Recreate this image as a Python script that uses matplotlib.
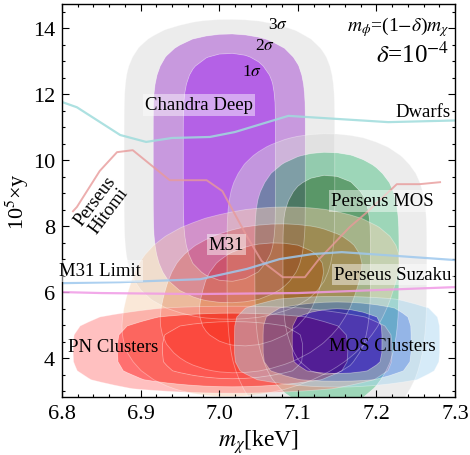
import numpy as np
import matplotlib.pyplot as plt
from matplotlib.colors import to_rgb
from matplotlib.ticker import MultipleLocator

plt.rcParams['font.family'] = ['Liberation Serif', 'DejaVu Serif']
plt.rcParams['mathtext.fontset'] = 'stix'

# sigma levels for 2 d.o.f. (1, 2, 3 sigma)
levels = [0, 2.30, 6.18, 11.83]

# contour regions: centre, x-scale, y-scale (up/down), exponents, tilt
names = ['Chandra Deep', 'Perseus MOS', 'M31', 'PN Clusters', 'MOS Clusters']
x0 = [7.013, 7.137, 7.055, 7.017, 7.150]
y0 = [10.0, 7.06, 6.2, 4.25, 4.50]
sx = [0.039, 0.037, 0.049, 0.059, 0.038]
sy_up = [2.83, 2.02, 0.955, 0.72, 0.85]
sy_dn = [3.20, 2.90, 1.35, 0.72, 0.85]
px = [2.0, 2.0, 2.0, 2.0, 2.0]
py = [6.0, 4.0, 2.7, 4.0, 5.0]
tilt = [0.0, 0.0, 0.013, 0.0, 0.0]
# colours of 1sigma, 2sigma, 3sigma bands
band_cols = [
    ['#b461e6', '#c899de', '#ececec'],
    ['#4c9f70', '#9dd6b8', '#ececec'],
    ['#f0a07a', '#f7c4a6', '#fbe8d8'],
    ['#ff3a3a', '#ff7070', '#ffc0c0'],
    ['#4a55e0', '#9fc0f2', '#d6ebf8'],
]

# limit curves
dwarfs_x = [6.8, 6.819, 6.874, 6.907, 6.94, 6.988, 7.02, 7.088, 7.215, 7.3]
dwarfs_y = [11.76, 11.6, 10.76, 10.55, 10.67, 10.7, 10.85, 11.34, 11.15, 11.2]
hitomi_x = [6.814, 6.819, 6.848, 6.870, 6.890, 6.937, 6.984, 7.004, 7.035, 7.054,
            7.081, 7.109, 7.126, 7.166, 7.188, 7.226, 7.255, 7.281]
hitomi_y = [8.45, 8.58, 9.67, 10.24, 10.30, 9.39, 9.39, 9.06, 7.70, 6.94,
            6.45, 6.45, 6.97, 7.97, 8.42, 9.27, 9.27, 9.33]
m31_x = [6.8, 6.874, 6.976, 7.035, 7.077, 7.118, 7.156, 7.211, 7.3]
m31_y = [6.27, 6.30, 6.39, 6.70, 7.0, 7.15, 7.21, 7.12, 6.97]
suzaku_x = [6.8, 6.85, 6.97, 7.1, 7.2, 7.3]
suzaku_y = [6.0, 5.97, 5.94, 5.97, 6.06, 6.15]


def band_style(c):
    # opacity and colour that give c when drawn over white
    rgb = np.array(to_rgb(c))
    a = float(np.clip((1 - rgb).max(), 0.46, 0.62))
    return a, tuple(np.clip(1 - (1 - rgb) / a, 0, 1))


fig = plt.figure(figsize=(4.7, 4.56), dpi=100)
ax = fig.add_axes([62 / 470, 58 / 456, 393 / 470, 393 / 456])

gx = np.linspace(6.8, 7.3, 31)
gy = np.linspace(2.8, 14.75, 45)
X, Y = np.meshgrid(gx, gy)

for i in range(len(names)):
    dy = Y - y0[i]
    sy = np.where(dy > 0, sy_up[i], sy_dn[i])
    xc = x0[i] + tilt[i] * dy
    chi2 = np.abs((X - xc) / sx[i]) ** px[i] + np.abs(dy / sy) ** py[i]
    for k, c in enumerate(band_cols[i]):
        a, fc = band_style(c)
        ax.contourf(X, Y, chi2, levels=levels[k:k + 2], colors=[fc], alpha=a,
                    antialiased=True)
    ax.contour(X, Y, chi2, levels=levels[1:], colors='white', linewidths=0.6, alpha=0.35)

ax.plot(dwarfs_x, dwarfs_y, color='#9fdcdc', lw=1.6, alpha=0.85)
ax.plot(hitomi_x, hitomi_y, color='#e89a9a', lw=1.4, alpha=0.8)
ax.plot(m31_x, m31_y, color='#9ec8ee', lw=1.6, alpha=0.85)
ax.plot(suzaku_x, suzaku_y, color='#f09ae6', lw=1.6, alpha=0.85)

box = dict(facecolor='white', alpha=0.45, edgecolor='none', pad=1.5)
fs = 13.5
ax.text(6.974, 11.67, 'Chandra Deep', fontsize=fs, ha='center', va='center', bbox=box)
ax.text(7.259, 11.48, 'Dwarfs', fontsize=fs, ha='center', va='center')
ax.text(7.208, 8.76, 'Perseus MOS', fontsize=fs, ha='center', va='center', bbox=box)
ax.text(7.009, 7.45, 'M31', fontsize=fs, ha='center', va='center', bbox=box)
ax.text(6.848, 6.64, 'M31 Limit', fontsize=fs, ha='center', va='center', bbox=box)
ax.text(7.221, 6.52, 'Perseus Suzaku', fontsize=fs, ha='center', va='center', bbox=box)
ax.text(6.865, 4.36, 'PN Clusters', fontsize=fs, ha='center', va='center')
ax.text(7.208, 4.39, 'MOS Clusters', fontsize=fs, ha='center', va='center')
ax.text(6.851, 8.62, 'Perseus\nHitomi', fontsize=fs, ha='center', va='center',
        rotation=53, linespacing=0.95)
ax.text(7.075, 14.12, r'3$\sigma$', fontsize=12.5, ha='center', va='center')
ax.text(7.058, 13.50, r'2$\sigma$', fontsize=12.5, ha='center', va='center')
ax.text(7.042, 12.70, r'1$\sigma$', fontsize=12.5, ha='center', va='center')
ax.text(0.985, 0.975, r'$m_\phi$=(1$-\delta$)$m_\chi$', transform=ax.transAxes,
        fontsize=14, ha='right', va='top')
ax.text(0.985, 0.905, r'$\delta$=10$^{-4}$', transform=ax.transAxes,
        fontsize=18, ha='right', va='top')

ax.set_xlim(6.8, 7.3)
ax.set_ylim(2.82, 14.73)
ax.xaxis.set_major_locator(MultipleLocator(0.1))
ax.xaxis.set_minor_locator(MultipleLocator(0.02))
ax.yaxis.set_major_locator(MultipleLocator(2))
ax.yaxis.set_minor_locator(MultipleLocator(0.5))
ax.tick_params(which='both', direction='in', top=True, right=True, width=0.8)
ax.tick_params(which='major', length=5, labelsize=16, pad=5)
ax.tick_params(which='minor', length=2.5)
for sp in ax.spines.values():
    sp.set_linewidth(1.0)

ax.set_xlabel(r'$m_\chi$[keV]', fontsize=17, labelpad=3)
ax.set_ylabel(r'10$^5$×y', fontsize=16, labelpad=1)

fig.savefig('out.png', dpi=100)
